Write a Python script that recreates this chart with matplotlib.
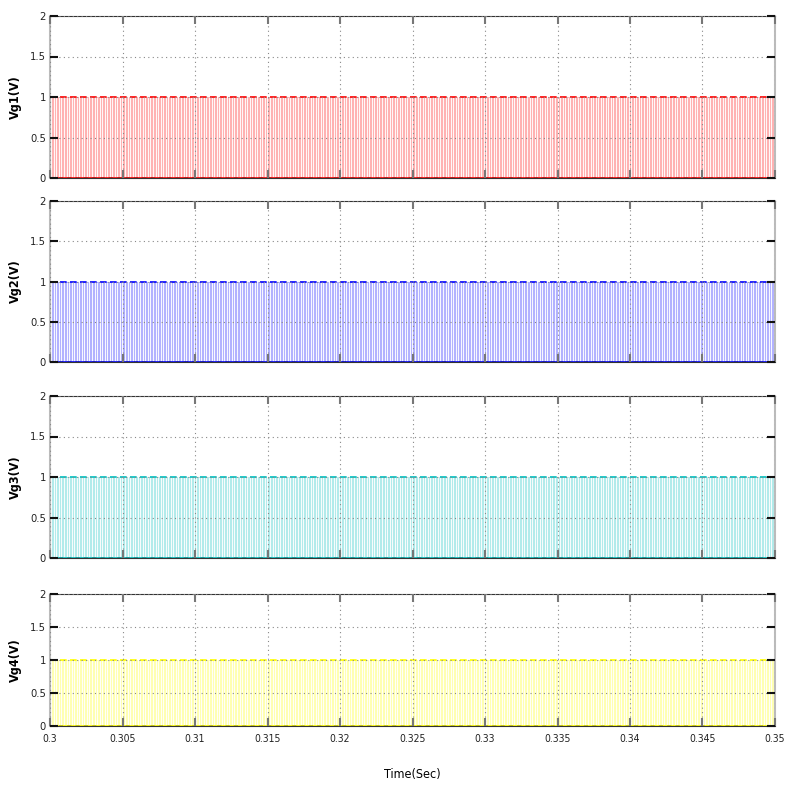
import numpy as np
import matplotlib
matplotlib.use("Agg")
import matplotlib.pyplot as plt

# ---- data ----
signal_names = ["Vg1(V)", "Vg2(V)", "Vg3(V)", "Vg4(V)"]
signal_colors = ["#ff0000", "#0000ff", "#00bfbf", "#ffff00"]
pulse_high = [1, 1, 1, 1]           # gate pulse amplitude (V)
pulse_low = [0, 0, 0, 0]
duty_cycle = [0.5, 0.5, 0.5, 0.5]
switching_freq = 4400.0             # Hz (read from stripe spacing)
t_start, t_end = 0.3, 0.35
xticks = [0.3, 0.305, 0.31, 0.315, 0.32, 0.325, 0.33, 0.335, 0.34, 0.345, 0.35]
xtick_labels = ["0.3", "0.305", "0.31", "0.315", "0.32", "0.325", "0.33", "0.335", "0.34", "0.345", "0.35"]
yticks = [0, 0.5, 1, 1.5, 2]
ytick_labels = ["0", "0.5", "1", "1.5", "2"]

plt.rcParams['font.family'] = ['DejaVu Sans']
plt.rcParams['font.stretch'] = 'condensed'

fig = plt.figure(figsize=(7.85, 7.85), dpi=100)
W = H = 785.0
boxes = [(16, 178), (201, 362), (396, 558), (594, 726)]
left_px, right_px = 50, 775

period = 1.0 / switching_freq
n_per = int(np.ceil((t_end - t_start) / period))
for i, (top, bot) in enumerate(boxes):
    ax = fig.add_axes([left_px / W, 1 - bot / H, (right_px - left_px) / W, (bot - top) / H])
    edges = []
    vals = []
    for k in range(n_per):
        t0 = t_start + k * period
        edges += [t0, t0 + duty_cycle[i] * period]
        vals += [pulse_high[i], pulse_low[i]]
    edges = np.array(edges)
    vals = np.array(vals)
    ax.step(edges, vals, where="post", color=signal_colors[i], lw=0.8, alpha=0.3)
    ax.axhline(pulse_high[i], color=signal_colors[i], lw=1.2, ls=(0, (4, 2)))
    ax.axhline(0, color=signal_colors[i], lw=1.2)
    ax.axhline(0, color="k", lw=1.0, ls=(0, (3, 3)))
    ax.set_xlim(t_start, t_end)
    ax.set_ylim(0, 2)
    ax.set_xticks(xticks)
    ax.set_yticks(yticks)
    ax.set_yticklabels(ytick_labels, fontsize=8)
    if i == 3:
        ax.set_xticklabels(xtick_labels, fontsize=7.5)
        ax.set_xlabel("Time(Sec)", fontsize=9, labelpad=17)
    else:
        ax.set_xticklabels([])
    ax.tick_params(direction="in", length=6, width=1.5, colors="#777777", labelcolor="#222222",
                   top=True, right=True, pad=6)
    ax.tick_params(axis="y", colors="#111111", labelcolor="#222222", pad=3)
    ax.grid(True, color="#888888", ls=(0, (1, 3)), lw=0.8)
    ax.set_axisbelow(False)
    ax.set_ylabel(signal_names[i], fontsize=9, fontweight="bold", labelpad=6)
    for s in ["left", "right"]:
        ax.spines[s].set_color("#bbbbbb")
        ax.spines[s].set_linewidth(1.5)
    ax.spines["top"].set_color("#333333")
    ax.spines["bottom"].set_color("#333333")

fig.savefig("out.png", dpi=100)
